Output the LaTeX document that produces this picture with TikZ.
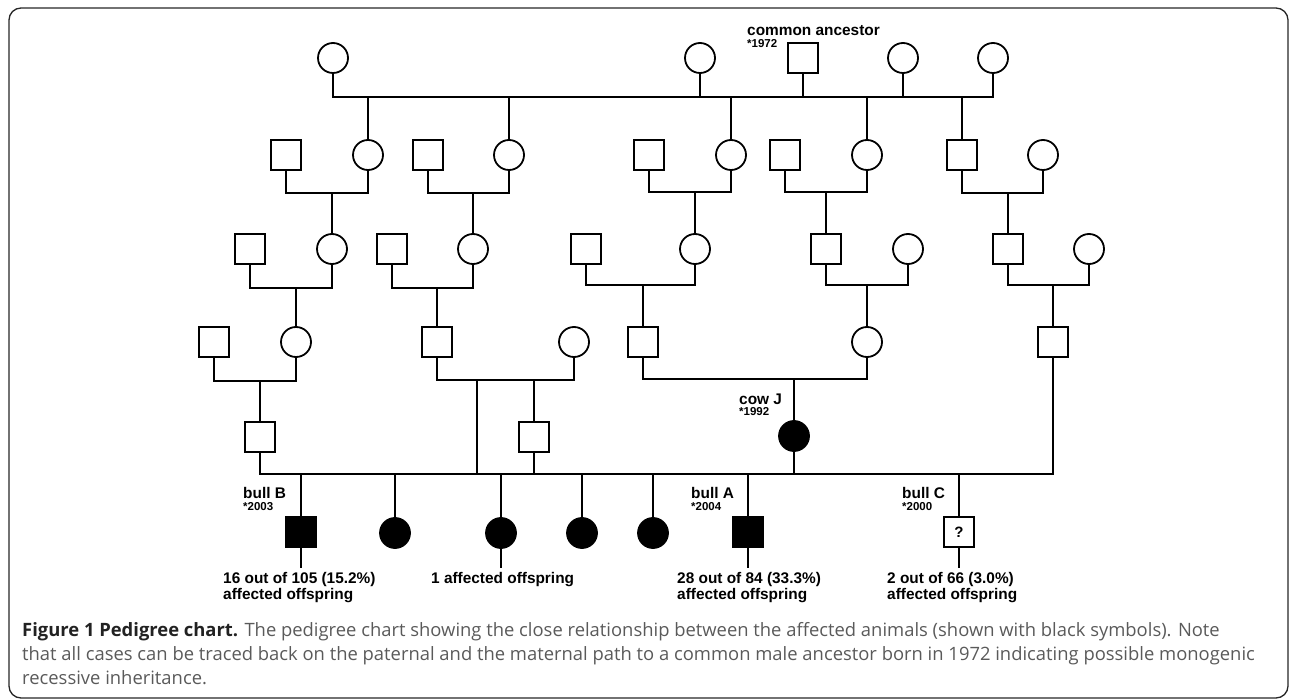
\documentclass[tikz,border=0pt]{standalone}
\usepackage{fontspec}
\newfontfamily\arialf{Liberation Sans}
\newfontfamily\capf{Open Sans}
\definecolor{capgray}{HTML}{5A5A5A}
\definecolor{capdark}{HTML}{222222}
\begin{document}
\begin{tikzpicture}[x=1pt,y=-1pt,
  ln/.style={line width=1.8pt},
  male/.style={draw, line width=1.8pt, rectangle, minimum size=30pt, inner sep=0pt},
  female/.style={draw, line width=1.8pt, circle, minimum size=30pt, inner sep=0pt},
  aff/.style={fill=black},
  lab/.style={font=\arialf\bfseries\fontsize{15.4}{16}\selectfont, inner sep=0pt, anchor=west},
  yr/.style={font=\arialf\bfseries\fontsize{11.5}{12}\selectfont, inner sep=0pt, anchor=west},
  res/.style={font=\arialf\bfseries\fontsize{15.4}{16.5}\selectfont, inner sep=0pt, anchor=north west, align=left},
  capline/.style={font=\capf\fontsize{18.4}{24}\selectfont, text=capgray, inner sep=0pt, anchor=base west}
]
\useasboundingbox (0,0) rectangle (1290,700);
\draw[line width=1.3pt, black!85, rounded corners=12pt] (9,8) rectangle (1288,698);

% generation 0
\node[female] (g0a) at (333,58) {};
\node[female] (g0b) at (700,58) {};
\node[male]   (g0c) at (803,58) {};
\node[female] (g0d) at (903,58) {};
\node[female] (g0e) at (993,58) {};
\coordinate (topL) at (333,97);
\coordinate (topR) at (993,97);
\draw[ln] (g0a.south) -- (topL) -- (topR) -- (g0e.south);
\foreach \n in {g0b,g0c,g0d} \draw[ln] (\n.south) -- (\n.south |- topL);

% generation 1
\node[male]   (f1m) at (286,155) {};
\node[female] (f1f) at (368,155) {};
\node[male]   (f2m) at (428,155) {};
\node[female] (f2f) at (509,155) {};
\node[male]   (f3m) at (649,155) {};
\node[female] (f3f) at (731,155) {};
\node[male]   (f4m) at (785,155) {};
\node[female] (f4f) at (867,155) {};
\node[male]   (f5m) at (962,155) {};
\node[female] (f5f) at (1043,155) {};
\foreach \n in {f1f,f2f,f3f,f4f,f5m} \draw[ln] (\n.north) -- (\n.north |- topL);
\coordinate (m1) at (332,193);
\coordinate (m2) at (473,193);
\coordinate (m3) at (695,192);
\coordinate (m4) at (826,192);
\coordinate (m5) at (1008,193);
\draw[ln] (f1m.south) |- (m1) -| (f1f.south);
\draw[ln] (f2m.south) |- (m2) -| (f2f.south);
\draw[ln] (f3m.south) |- (m3) -| (f3f.south);
\draw[ln] (f4m.south) |- (m4) -| (f4f.south);
\draw[ln] (f5m.south) |- (m5) -| (f5f.south);

% generation 2
\node[male]   (h1m) at (250,249) {};
\node[female] (h1f) at (332,249) {};
\node[male]   (h2m) at (392,249) {};
\node[female] (h2f) at (473,249) {};
\node[male]   (h3m) at (586,249) {};
\node[female] (h3f) at (695,249) {};
\node[male]   (h4m) at (826,249) {};
\node[female] (h4f) at (908,249) {};
\node[male]   (h5m) at (1008,249) {};
\node[female] (h5f) at (1089,249) {};
\draw[ln] (m1) -- (h1f.north);
\draw[ln] (m2) -- (h2f.north);
\draw[ln] (m3) -- (h3f.north);
\draw[ln] (m4) -- (h4m.north);
\draw[ln] (m5) -- (h5m.north);
\coordinate (n1) at (296,288);
\coordinate (n2) at (437,288);
\coordinate (n3) at (643,285);
\coordinate (n4) at (867,285);
\coordinate (n5) at (1053,285);
\draw[ln] (h1m.south) |- (n1) -| (h1f.south);
\draw[ln] (h2m.south) |- (n2) -| (h2f.south);
\draw[ln] (h3m.south) |- (n3) -| (h3f.south);
\draw[ln] (h4m.south) |- (n4) -| (h4f.south);
\draw[ln] (h5m.south) |- (n5) -| (h5f.south);

% generation 3
\node[male]   (i1m) at (214,342) {};
\node[female] (i1f) at (296,342) {};
\node[male]   (i2m) at (437,342) {};
\node[female] (i2f) at (574,342) {};
\node[male]   (i3m) at (643,342) {};
\node[female] (i3f) at (867,342) {};
\node[male]   (i5)  at (1053,342) {};
\draw[ln] (n1) -- (i1f.north);
\draw[ln] (n2) -- (i2m.north);
\draw[ln] (n3) -- (i3m.north);
\draw[ln] (n4) -- (i3f.north);
\draw[ln] (n5) -- (i5.north);
\coordinate (p1) at (260,381);
\coordinate (p2a) at (477,380);
\coordinate (p2b) at (534,380);
\coordinate (p3) at (794,379);
\draw[ln] (i1m.south) |- (p1) -| (i1f.south);
\draw[ln] (i2m.south) |- (p2a) -- (p2b) -| (i2f.south);
\draw[ln] (i3m.south) |- (p3) -| (i3f.south);

% generation 4
\node[male]        (j1)   at (260,437) {};
\node[male]        (j2)   at (534,437) {};
\node[female, aff] (cowJ) at (794,436) {};
\draw[ln] (p1) -- (j1.north);
\draw[ln] (p2b) -- (j2.north);
\draw[ln] (p3) -- (cowJ.north);

% sibship line
\coordinate (botL) at (260,474);
\coordinate (botR) at (1053,474);
\draw[ln] (j1.south) -- (botL) -- (botR) -- (i5.south);
\draw[ln] (p2a) -- (p2a |- botL);
\draw[ln] (j2.south) -- (j2.south |- botL);
\draw[ln] (cowJ.south) -- (cowJ.south |- botL);

% offspring
\node[male, aff]   (bullB) at (301,532) {};
\node[female, aff] (c2)    at (395,533) {};
\node[female, aff] (c3)    at (501,533) {};
\node[female, aff] (c4)    at (582,533) {};
\node[female, aff] (c5)    at (653,533) {};
\node[male, aff]   (bullA) at (748,532) {};
\node[male, font=\arialf\bfseries\fontsize{15}{16}\selectfont] (bullC) at (959,532) {?};
\foreach \n in {bullB,c2,c3,c4,c5,bullA,bullC} \draw[ln] (\n.north) -- (\n.north |- botL);
\coordinate (tB) at (301,568);
\coordinate (t3) at (501,568);
\coordinate (tA) at (748,568);
\coordinate (tC) at (959,568);
\draw[ln] (bullB.south) -- (tB);
\draw[ln] (c3.south) -- (t3);
\draw[ln] (bullA.south) -- (tA);
\draw[ln] (bullC.south) -- (tC);

% labels
\node[lab] (lca) at (747,31) {common ancestor};
\node[yr]  (yca) at (747,44) {*1972};
\node[lab] (lcj) at (739,399) {cow J};
\node[yr]  (ycj) at (739,412) {*1992};
\node[lab] (lbB) at (243,493) {bull B};
\node[yr]  (ybB) at (243,507) {*2003};
\node[lab] (lbA) at (691,493) {bull A};
\node[yr]  (ybA) at (691,507) {*2004};
\node[lab] (lbC) at (902,493) {bull C};
\node[yr]  (ybC) at (902,507) {*2000};
\node[res] (rB) at (223,572) {16 out of 105 (15.2\%)\\affected offspring};
\node[res] (r3) at (431,572) {1 affected offspring};
\node[res] (rA) at (677,572) {28 out of 84 (33.3\%)\\affected offspring};
\node[res] (rC) at (887,572) {2 out of 66 (3.0\%)\\affected offspring};

% caption
\node[capline] (cap1) at (22,636) {{\bfseries\color{capdark}Figure 1 Pedigree chart.} The pedigree chart showing the close relationship between the affected animals (shown with black symbols). Note};
\node[capline] (cap2) at (22,660) {that all cases can be traced back on the paternal and the maternal path to a common male ancestor born in 1972 indicating possible monogenic};
\node[capline] (cap3) at (22,684) {recessive inheritance.};
\end{tikzpicture}
\end{document}
